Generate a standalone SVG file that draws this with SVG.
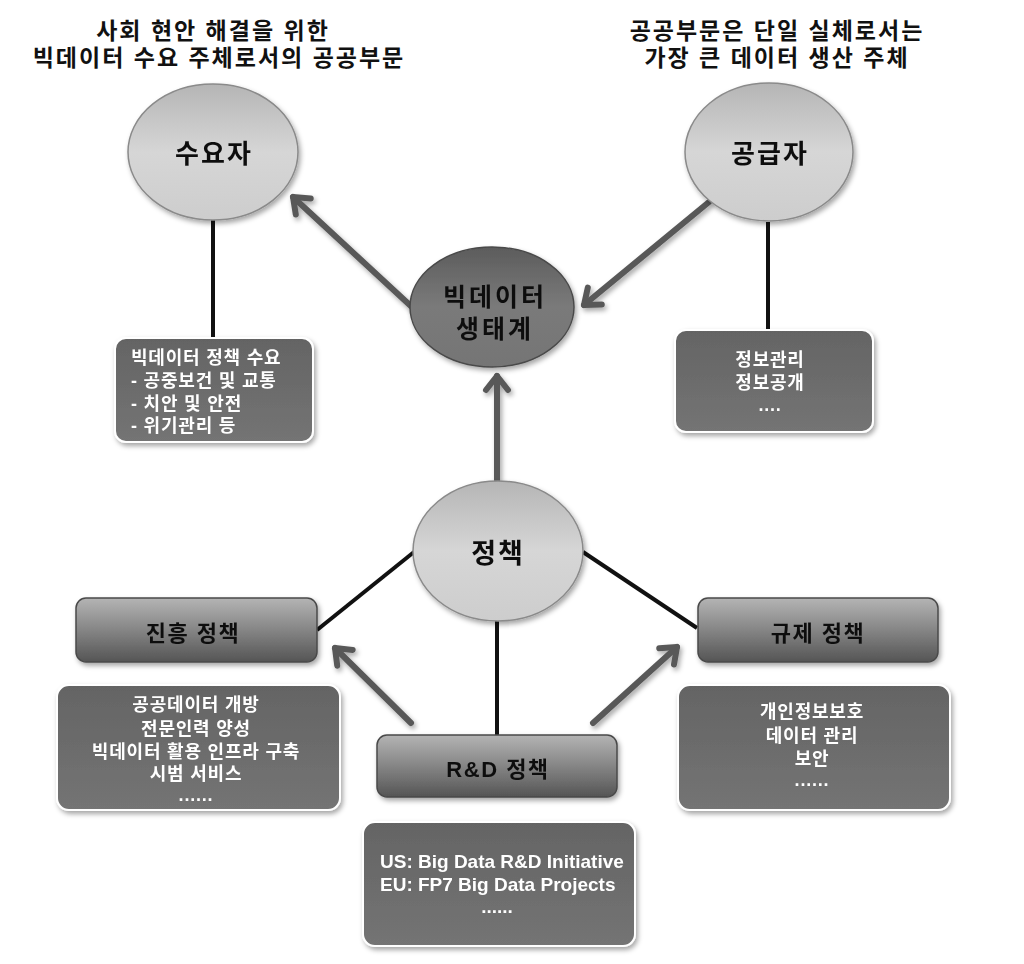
<svg xmlns="http://www.w3.org/2000/svg" width="1024" height="964" viewBox="0 0 1024 964">
<defs>
<linearGradient id="gLight" x1="0" y1="0" x2="0" y2="1">
<stop offset="0" stop-color="#b5b5b5"/><stop offset="0.5" stop-color="#d6d6d6"/><stop offset="1" stop-color="#cdcdcd"/>
</linearGradient>
<linearGradient id="gDark" x1="0" y1="0" x2="0" y2="1">
<stop offset="0" stop-color="#5c5c5c"/><stop offset="0.5" stop-color="#7a7a7a"/><stop offset="1" stop-color="#757575"/>
</linearGradient>
<linearGradient id="gTitle" x1="0" y1="0" x2="0" y2="1">
<stop offset="0" stop-color="#b4b4b4"/><stop offset="0.45" stop-color="#8a8a8a"/><stop offset="1" stop-color="#555"/>
</linearGradient>
<linearGradient id="gBox" x1="0" y1="0" x2="0" y2="1">
<stop offset="0" stop-color="#646464"/><stop offset="1" stop-color="#747474"/>
</linearGradient>
<filter id="sh" x="-20%" y="-20%" width="140%" height="150%">
<feDropShadow dx="2" dy="3" stdDeviation="2.5" flood-color="#000" flood-opacity="0.35"/>
</filter>
<marker id="ah" markerUnits="userSpaceOnUse" markerWidth="40" markerHeight="40" viewBox="-20 -20 40 40" refX="0" refY="0" orient="auto">
<path d="M-14,-11 L0,0 L-14,11" fill="none" stroke="#595959" stroke-width="6" stroke-linecap="round" stroke-linejoin="round"/>
</marker>
<style>
text{font-family:"Liberation Sans","Noto Sans CJK KR",sans-serif;font-weight:bold}
.title{font-size:23px;fill:#111;text-anchor:middle;letter-spacing:2px}
.big{font-size:26px;fill:#111;text-anchor:middle;letter-spacing:2px}
.lbl{font-size:22px;fill:#111;text-anchor:middle;letter-spacing:1.5px}
.w{font-size:18px;fill:#fff;letter-spacing:0.8px}
.e{font-size:19px;fill:#fff}
.c{text-anchor:middle}
.ln{stroke:#111;stroke-width:4;fill:none}
.ar{stroke:#595959;stroke-width:6;fill:none;stroke-linecap:round;marker-end:url(#ah)}
.ell{stroke:#8a8a8a;stroke-width:1.5}
.tb{fill:url(#gTitle);stroke:#4a4a4a;stroke-width:1.5}
.cb{fill:url(#gBox);stroke:#fff;stroke-width:2}
</style>
</defs>
<rect width="1024" height="964" fill="#fff"/>

<g id="titles">
<text class="title" x="213" y="39">사회 현안 해결을 위한</text>
<text class="title" x="219" y="66">빅데이터 수요 주체로서의 공공부문</text>
<text class="title" x="777" y="39">공공부문은 단일 실체로서는</text>
<text class="title" x="777" y="66">가장 큰 데이터 생산 주체</text>
</g>

<g id="connectors">
<line class="ln" x1="213" y1="220" x2="213" y2="340"/>
<line class="ln" x1="768" y1="222" x2="768" y2="330"/>
<line class="ln" x1="414" y1="552" x2="317" y2="630"/>
<line class="ln" x1="583" y1="552" x2="697" y2="628"/>
<line class="ln" x1="497" y1="620" x2="497" y2="736"/>
<g filter="url(#sh)">
<line class="ar" x1="497" y1="480" x2="497" y2="376"/>
<line class="ar" x1="413" y1="308" x2="293" y2="197"/>
<line class="ar" x1="709" y1="202" x2="584" y2="305"/>
<line class="ar" x1="411" y1="723" x2="335" y2="648"/>
<line class="ar" x1="593" y1="723" x2="677" y2="647"/>
</g>
</g>

<g id="node-suyoja" filter="url(#sh)">
<ellipse class="ell" cx="213" cy="152" rx="85" ry="68" fill="url(#gLight)"/>
<text class="big" x="214" y="163">수요자</text>
</g>
<g id="node-gonggeupja" filter="url(#sh)">
<ellipse class="ell" cx="769" cy="152" rx="84" ry="69" fill="url(#gLight)"/>
<text class="big" x="770" y="163">공급자</text>
</g>
<g id="node-ecosystem" filter="url(#sh)">
<ellipse cx="492" cy="307" rx="82" ry="60" fill="url(#gDark)" stroke="#4a4a4a" stroke-width="1.5"/>
<text class="big" x="495" y="306" style="font-size:25px;letter-spacing:3px">빅데이터</text>
<text class="big" x="495" y="338" style="font-size:25px;letter-spacing:3px">생태계</text>
</g>
<g id="node-policy" filter="url(#sh)">
<ellipse class="ell" cx="498" cy="551" rx="85" ry="70" fill="url(#gLight)"/>
<text class="big" x="498" y="563" style="font-size:27px">정책</text>
</g>

<g id="box-demand" filter="url(#sh)">
<rect class="cb" x="115" y="338" width="198" height="104" rx="11"/>
<text class="w" x="131" y="364">빅데이터 정책 수요</text>
<text class="w" x="131" y="387">- 공중보건 및 교통</text>
<text class="w" x="131" y="410">- 치안 및 안전</text>
<text class="w" x="131" y="432">- 위기관리 등</text>
</g>
<g id="box-supply" filter="url(#sh)">
<rect class="cb" x="675" y="330" width="198" height="102" rx="11"/>
<text class="w c" x="770" y="366">정보관리</text>
<text class="w c" x="770" y="389">정보공개</text>
<text class="w c" x="770" y="411">....</text>
</g>

<g id="node-promotion" filter="url(#sh)">
<rect class="tb" x="76" y="598" width="241" height="64" rx="10"/>
<text class="lbl" x="193" y="641">진흥 정책</text>
</g>
<g id="node-rnd" filter="url(#sh)">
<rect class="tb" x="377" y="735" width="240" height="62" rx="10"/>
<text class="lbl" x="498" y="777">R&amp;D 정책</text>
</g>
<g id="node-regulation" filter="url(#sh)">
<rect class="tb" x="698" y="598" width="240" height="64" rx="10"/>
<text class="lbl" x="818" y="641">규제 정책</text>
</g>

<g id="box-promotion" filter="url(#sh)">
<rect class="cb" x="57" y="685" width="283" height="125" rx="12"/>
<text class="w c" x="196" y="711">공공데이터 개방</text>
<text class="w c" x="196" y="735">전문인력 양성</text>
<text class="w c" x="196" y="758">빅데이터 활용 인프라 구축</text>
<text class="w c" x="196" y="780">시범 서비스</text>
<text class="w c" x="196" y="801">......</text>
</g>
<g id="box-rnd" filter="url(#sh)">
<rect class="cb" x="363" y="822" width="272" height="124" rx="12"/>
<text class="e" x="380" y="868">US: Big Data R&amp;D Initiative</text>
<text class="e" x="380" y="891">EU: FP7 Big Data Projects</text>
<text class="e c" x="497" y="913">......</text>
</g>
<g id="box-regulation" filter="url(#sh)">
<rect class="cb" x="678" y="685" width="272" height="125" rx="12"/>
<text class="w c" x="812" y="718">개인정보보호</text>
<text class="w c" x="812" y="742">데이터 관리</text>
<text class="w c" x="812" y="765">보안</text>
<text class="w c" x="812" y="786">......</text>
</g>
</svg>
